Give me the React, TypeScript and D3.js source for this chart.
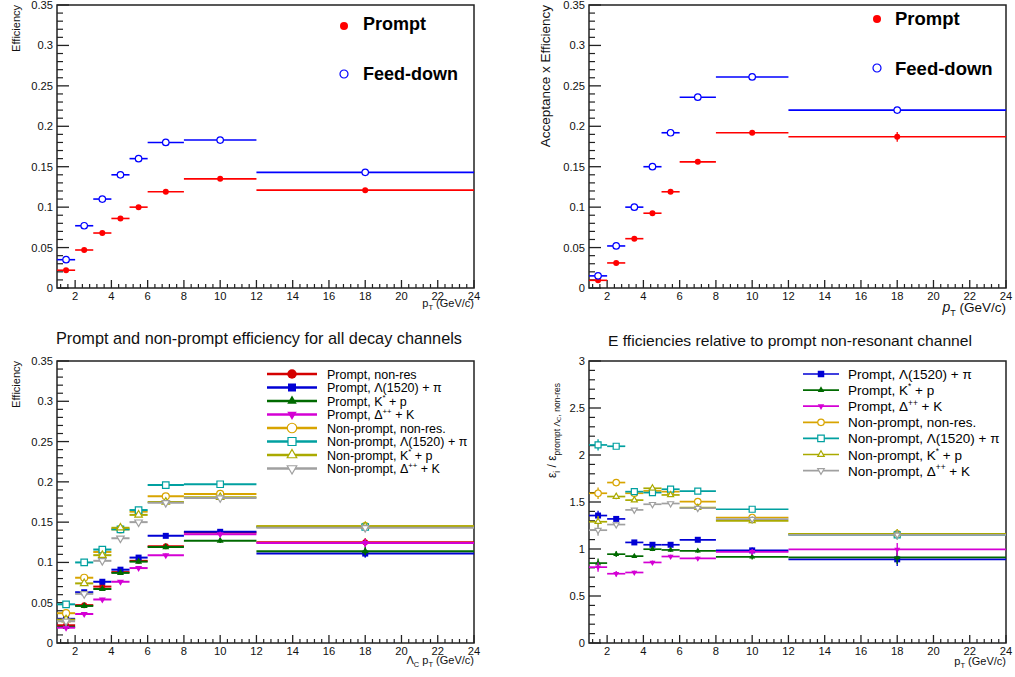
import React from "react";
import * as d3 from "d3";

const FONT = "'Liberation Sans', Arial, Helvetica, sans-serif";

// ---------- binning (pT, GeV/c) ----------
const binLow = [1, 2, 3, 4, 5, 6, 8, 12];
const binHigh = [2, 3, 4, 5, 6, 8, 12, 24];
const binCenter = [1.5, 2.5, 3.5, 4.5, 5.5, 7, 10, 18];

// ---------- top-left: efficiency ----------
const effPrompt = [0.022, 0.047, 0.068, 0.086, 0.1, 0.119, 0.135, 0.121];
const effFeedDown = [0.035, 0.077, 0.11, 0.14, 0.16, 0.18, 0.183, 0.143];

// ---------- top-right: acceptance x efficiency ----------
const accEffPrompt = [0.0095, 0.031, 0.061, 0.0925, 0.119, 0.156, 0.192, 0.187];
const accEffPromptErr = [0.0005, 0.0008, 0.001, 0.0012, 0.0015, 0.002, 0.002, 0.006];
const accEffFeedDown = [0.015, 0.052, 0.1, 0.15, 0.192, 0.236, 0.261, 0.22];

// ---------- bottom-left: efficiency per decay channel ----------
const chPromptNonRes = [0.022, 0.047, 0.07, 0.088, 0.102, 0.12, 0.137, 0.125];
const chPromptL1520 = [0.03, 0.063, 0.076, 0.091, 0.106, 0.133, 0.138, 0.111];
const chPromptKstar = [0.02, 0.046, 0.067, 0.087, 0.101, 0.119, 0.127, 0.114];
const chPromptDelta = [0.019, 0.036, 0.054, 0.076, 0.093, 0.109, 0.135, 0.124];
const chNPNonRes = [0.037, 0.081, 0.113, 0.141, 0.163, 0.182, 0.185, 0.145];
const chNPL1520 = [0.048, 0.1, 0.116, 0.141, 0.165, 0.196, 0.197, 0.144];
const chNPKstar = [0.029, 0.074, 0.109, 0.143, 0.159, 0.175, 0.181, 0.145];
const chNPDelta = [0.027, 0.061, 0.102, 0.13, 0.15, 0.174, 0.18, 0.143];
const chErrPrompt = [0.002, 0.002, 0.002, 0.002, 0.002, 0.002, 0.003, 0.005];
const chErrNP = [0.002, 0.002, 0.002, 0.002, 0.002, 0.002, 0.002, 0.004];

// ---------- bottom-right: ratio to prompt non-resonant ----------
const ratioPromptL1520 = [1.356, 1.32, 1.07, 1.045, 1.045, 1.098, 0.985, 0.89];
const ratioPromptKstar = [0.85, 0.945, 0.924, 0.998, 0.99, 0.98, 0.917, 0.91];
const ratioPromptDelta = [0.807, 0.737, 0.75, 0.857, 0.92, 0.9, 0.97, 0.995];
const ratioNPNonRes = [1.593, 1.707, 1.593, 1.618, 1.61, 1.505, 1.335, 1.16];
const ratioNPL1520 = [2.107, 2.093, 1.61, 1.6, 1.636, 1.615, 1.423, 1.15];
const ratioNPKstar = [1.29, 1.558, 1.52, 1.646, 1.575, 1.44, 1.3, 1.16];
const ratioNPDelta = [1.2, 1.26, 1.416, 1.476, 1.484, 1.434, 1.317, 1.15];
const ratioErrPrompt = [0.05, 0.03, 0.02, 0.02, 0.02, 0.02, 0.03, 0.07];
const ratioErrNP = [0.06, 0.03, 0.02, 0.02, 0.02, 0.02, 0.03, 0.05];

// ---------- tick and legend labels ----------
const xMajorTicks = [2, 4, 6, 8, 10, 12, 14, 16, 18, 20, 22, 24];
const channelLabels = [
  "Prompt, non-res",
  "Prompt, Λ(1520) + π",
  "Prompt, K^{*} + p",
  "Prompt, Δ^{++} + K",
  "Non-prompt, non-res.",
  "Non-prompt, Λ(1520) + π",
  "Non-prompt, K^{*} + p",
  "Non-prompt, Δ^{++} + K",
];
const channelColors = ["#d40000", "#0000d4", "#006a00", "#d400d4", "#d8a400", "#00a0a0", "#aaaa00", "#a0a0a0"];
const channelShapes = ["circle", "square", "tri", "tridown", "circle", "square", "tri", "tridown"];
const channelOpen = [false, false, false, false, true, true, true, true];

type Frame = { x0: number; x1: number; y0: number; y1: number };

function rich(s: string, fs: number) {
  const parts = s.split(/(\^\{[^}]*\}|_\{[^}]*\})/).filter((p) => p.length);
  let cur = 0;
  return parts.map((p, i) => {
    let target = 0;
    let size = fs;
    let txt = p;
    if (p.startsWith("^{")) {
      target = -fs * 0.42;
      size = fs * 0.62;
      txt = p.slice(2, -1);
    } else if (p.startsWith("_{")) {
      target = fs * 0.3;
      size = fs * 0.62;
      txt = p.slice(2, -1);
    }
    const dy = target - cur;
    cur = target;
    return (
      <tspan key={i} fontSize={size} dy={dy}>
        {txt}
      </tspan>
    );
  });
}

function symbolPath(shape: string, d: number) {
  let type = d3.symbolCircle;
  let area = Math.PI * (d / 2) * (d / 2);
  if (shape === "square") {
    type = d3.symbolSquare;
    area = d * d;
  } else if (shape === "tri" || shape === "tridown") {
    type = d3.symbolTriangle;
    area = (Math.sqrt(3) / 4) * d * d;
  }
  return d3.symbol().type(type).size(area)() as string;
}

function Marker({ cx, cy, shape, d, color, open }: any) {
  const rot = shape === "tridown" ? " rotate(180)" : "";
  return (
    <path
      d={symbolPath(shape, d)}
      transform={`translate(${cx},${cy})${rot}`}
      fill={open ? "#fff" : color}
      stroke={color}
      strokeWidth={open ? 1.2 : 0}
    />
  );
}

function Axes({ f, yMax, yMajor, yMinor }: { f: Frame; yMax: number; yMajor: number; yMinor: number }) {
  const x = d3.scaleLinear().domain([1, 24]).range([f.x0, f.x1]);
  const y = d3.scaleLinear().domain([0, yMax]).range([f.y1, f.y0]);
  const yMaj = d3.range(0, yMax + 1e-9, yMajor);
  const yMin = d3
    .range(0, yMax + 1e-9, yMinor)
    .filter((v) => Math.abs(v / yMajor - Math.round(v / yMajor)) > 1e-6);
  const xMin = d3
    .range(1.2, 24.001, 0.4)
    .map((v) => Math.round(v * 10) / 10)
    .filter((v) => Math.abs(v / 2 - Math.round(v / 2)) > 1e-6);
  const fmt = (v: number) => String(+v.toFixed(2));
  return (
    <g fontFamily={FONT} fill="#111">
      <rect x={f.x0} y={f.y0} width={f.x1 - f.x0} height={f.y1 - f.y0} fill="none" stroke="#222" strokeWidth={1.5} />
      {yMaj.map((v) => (
        <g key={"ym" + v}>
          <line x1={f.x0} x2={f.x0 + 12} y1={y(v)} y2={y(v)} stroke="#222" strokeWidth={1.3} />
          <text x={f.x0 - 4} y={y(v)} dy="0.36em" textAnchor="end" fontSize={11.2}>
            {fmt(v)}
          </text>
        </g>
      ))}
      {yMin.map((v) => (
        <line key={"yn" + v} x1={f.x0} x2={f.x0 + 6} y1={y(v)} y2={y(v)} stroke="#222" strokeWidth={1.2} />
      ))}
      {xMajorTicks.map((v) => (
        <g key={"xm" + v}>
          <line x1={x(v)} x2={x(v)} y1={f.y1} y2={f.y1 - 8} stroke="#222" strokeWidth={1.3} />
          <text x={x(v)} y={f.y1 + 12} textAnchor="middle" fontSize={11.2}>
            {v}
          </text>
        </g>
      ))}
      {xMin.map((v) => (
        <line key={"xn" + v} x1={x(v)} x2={x(v)} y1={f.y1} y2={f.y1 - 4} stroke="#222" strokeWidth={1.2} />
      ))}
    </g>
  );
}

function Series({ f, yMax, vals, errs, color, shape, open, d, lw }: any) {
  const x = d3.scaleLinear().domain([1, 24]).range([f.x0, f.x1]);
  const y = d3.scaleLinear().domain([0, yMax]).range([f.y1, f.y0]);
  return (
    <g>
      {vals.map((v: number, i: number) => (
        <g key={i}>
          <line x1={x(binLow[i])} x2={x(binHigh[i])} y1={y(v)} y2={y(v)} stroke={color} strokeWidth={lw} />
          {errs ? (
            <line
              x1={x(binCenter[i])}
              x2={x(binCenter[i])}
              y1={y(v - errs[i])}
              y2={y(v + errs[i])}
              stroke={color}
              strokeWidth={lw * 0.8}
            />
          ) : null}
          <Marker cx={x(binCenter[i])} cy={y(v)} shape={shape} d={d} color={color} open={open} />
        </g>
      ))}
    </g>
  );
}

const fTL: Frame = { x0: 57, x1: 474, y0: 5, y1: 288 };
const fTR: Frame = { x0: 589, x1: 1006, y0: 5, y1: 288 };
const fBL: Frame = { x0: 57, x1: 474, y0: 361, y1: 643 };
const fBR: Frame = { x0: 589, x1: 1006, y0: 361, y1: 643 };

export default function App() {
  const blSeries = [
    chPromptNonRes,
    chPromptL1520,
    chPromptKstar,
    chPromptDelta,
    chNPNonRes,
    chNPL1520,
    chNPKstar,
    chNPDelta,
  ];
  const brSeries = [
    ratioPromptL1520,
    ratioPromptKstar,
    ratioPromptDelta,
    ratioNPNonRes,
    ratioNPL1520,
    ratioNPKstar,
    ratioNPDelta,
  ];
  const blMarkerD = [6, 6, 7, 7, 7, 6.5, 7.5, 7.5];
  return (
    <svg
      width={1015}
      height={677}
      style={{ position: "absolute", left: 0, top: 0, background: "#fff" }}
      fontFamily={FONT}
    >
      <rect x={0} y={0} width={1015} height={677} fill="#fff" />

      {/* ---------------- TOP LEFT ---------------- */}
      <Axes f={fTL} yMax={0.35} yMajor={0.05} yMinor={0.01} />
      <Series f={fTL} yMax={0.35} vals={effPrompt} color="#ff0000" shape="circle" open={false} d={6} lw={1.6} />
      <Series f={fTL} yMax={0.35} vals={effFeedDown} color="#0000ff" shape="circle" open={true} d={6.5} lw={1.6} />
      <text transform="translate(20,5) rotate(-90)" textAnchor="end" fontSize={11} fill="#111">
        Efficiency
      </text>
      <text x={474} y={307} textAnchor="end" fontSize={11} fill="#111">
        p
        <tspan fontSize={7.5} dy={3}>
          T
        </tspan>
        <tspan fontSize={11} dy={-3}>
          {" "}
          (GeV/c)
        </tspan>
      </text>
      <Marker cx={344} cy={26} shape="circle" d={8} color="#ff0000" open={false} />
      <text x={363} y={30} fontSize={18} fontWeight="bold" fill="#000">
        Prompt
      </text>
      <Marker cx={344} cy={74} shape="circle" d={8} color="#0000ff" open={true} />
      <text x={363} y={80} fontSize={18} fontWeight="bold" fill="#000">
        Feed-down
      </text>

      {/* ---------------- TOP RIGHT ---------------- */}
      <Axes f={fTR} yMax={0.35} yMajor={0.05} yMinor={0.01} />
      <Series
        f={fTR}
        yMax={0.35}
        vals={accEffPrompt}
        errs={accEffPromptErr}
        color="#ff0000"
        shape="circle"
        open={false}
        d={6}
        lw={1.6}
      />
      <Series f={fTR} yMax={0.35} vals={accEffFeedDown} color="#0000ff" shape="circle" open={true} d={6.5} lw={1.6} />
      <text transform="translate(550,5) rotate(-90)" textAnchor="end" fontSize={13.5} fill="#111">
        Acceptance x Efficiency
      </text>
      <text x={1006} y={312} textAnchor="end" fontSize={13.5} fill="#111">
        <tspan fontStyle="italic" fontSize={14}>
          p
        </tspan>
        <tspan fontSize={9} dy={4}>
          T
        </tspan>
        <tspan fontSize={13.5} dy={-4}>
          {" "}
          (GeV/c)
        </tspan>
      </text>
      <Marker cx={877} cy={19} shape="circle" d={8} color="#ff0000" open={false} />
      <text x={895} y={25} fontSize={18.5} fontWeight="bold" fill="#000">
        Prompt
      </text>
      <Marker cx={877} cy={68} shape="circle" d={8} color="#0000ff" open={true} />
      <text x={895} y={75} fontSize={18.5} fontWeight="bold" fill="#000">
        Feed-down
      </text>

      {/* ---------------- BOTTOM LEFT ---------------- */}
      <text x={56} y={344} fontSize={17} textLength={406} lengthAdjust="spacingAndGlyphs" fill="#111">
        Prompt and non-prompt efficiency for all decay channels
      </text>
      <Axes f={fBL} yMax={0.35} yMajor={0.05} yMinor={0.01} />
      {blSeries.map((vals, k) => (
        <Series
          key={k}
          f={fBL}
          yMax={0.35}
          vals={vals}
          errs={k < 4 ? chErrPrompt : chErrNP}
          color={channelColors[k]}
          shape={channelShapes[k]}
          open={channelOpen[k]}
          d={blMarkerD[k]}
          lw={2}
        />
      ))}
      <text transform="translate(20,361) rotate(-90)" textAnchor="end" fontSize={11} fill="#111">
        Efficiency
      </text>
      <text x={474} y={664} textAnchor="end" fontSize={11} fill="#111">
        Λ
        <tspan fontSize={7.5} dy={3}>
          C
        </tspan>
        <tspan fontSize={11} dy={-3}>
          {" "}
          p
        </tspan>
        <tspan fontSize={7.5} dy={3}>
          T
        </tspan>
        <tspan fontSize={11} dy={-3}>
          {" "}
          (GeV/c)
        </tspan>
      </text>
      {channelLabels.map((lab, k) => {
        const yy = 374 + k * 13.5;
        return (
          <g key={k}>
            <line x1={267} x2={317} y1={yy} y2={yy} stroke={channelColors[k]} strokeWidth={2.5} />
            <Marker
              cx={292}
              cy={yy}
              shape={channelShapes[k]}
              d={k === 1 || k === 5 ? 8 : 9.5}
              color={channelColors[k]}
              open={channelOpen[k]}
            />
            <text x={327} y={yy + 4.5} fontSize={12.5} fill="#000">
              {rich(lab, 12.5)}
            </text>
          </g>
        );
      })}

      {/* ---------------- BOTTOM RIGHT ---------------- */}
      <text x={608} y={346} fontSize={15} textLength={364} lengthAdjust="spacingAndGlyphs" fill="#111">
        E fficiencies relative to prompt non-resonant channel
      </text>
      <Axes f={fBR} yMax={3} yMajor={0.5} yMinor={0.1} />
      {brSeries.map((vals, k) => (
        <Series
          key={k}
          f={fBR}
          yMax={3}
          vals={vals}
          errs={k < 3 ? ratioErrPrompt : ratioErrNP}
          color={channelColors[k + 1]}
          shape={channelShapes[k + 1]}
          open={channelOpen[k + 1]}
          d={k === 3 ? 6.5 : 6}
          lw={1.7}
        />
      ))}
      <text transform="translate(556,478) rotate(-90)" fontSize={12} fill="#111">
        ε
        <tspan fontSize={8.5} dy={3.5}>
          i
        </tspan>
        <tspan fontSize={12} dy={-3.5}>
          {" / ε"}
        </tspan>
        <tspan fontSize={8.5} dy={3.5}>
          prompt Λ
        </tspan>
        <tspan fontSize={6} dy={1.5}>
          C
        </tspan>
        <tspan fontSize={8.5} dy={-1.5}>
          , non-res
        </tspan>
      </text>
      <text x={1006} y={665} textAnchor="end" fontSize={11} fill="#111">
        p
        <tspan fontSize={7.5} dy={3}>
          T
        </tspan>
        <tspan fontSize={11} dy={-3}>
          {" "}
          (GeV/c)
        </tspan>
      </text>
      {channelLabels.slice(1).map((lab, k) => {
        const yy = 374 + k * 16.1;
        const c = channelColors[k + 1];
        return (
          <g key={k}>
            <line x1={803} x2={839} y1={yy} y2={yy} stroke={c} strokeWidth={1.7} />
            <Marker cx={821} cy={yy} shape={channelShapes[k + 1]} d={6.5} color={c} open={channelOpen[k + 1]} />
            <text x={848} y={yy + 5} fontSize={13.5} fill="#000">
              {rich(lab, 13.5)}
            </text>
          </g>
        );
      })}
    </svg>
  );
}
